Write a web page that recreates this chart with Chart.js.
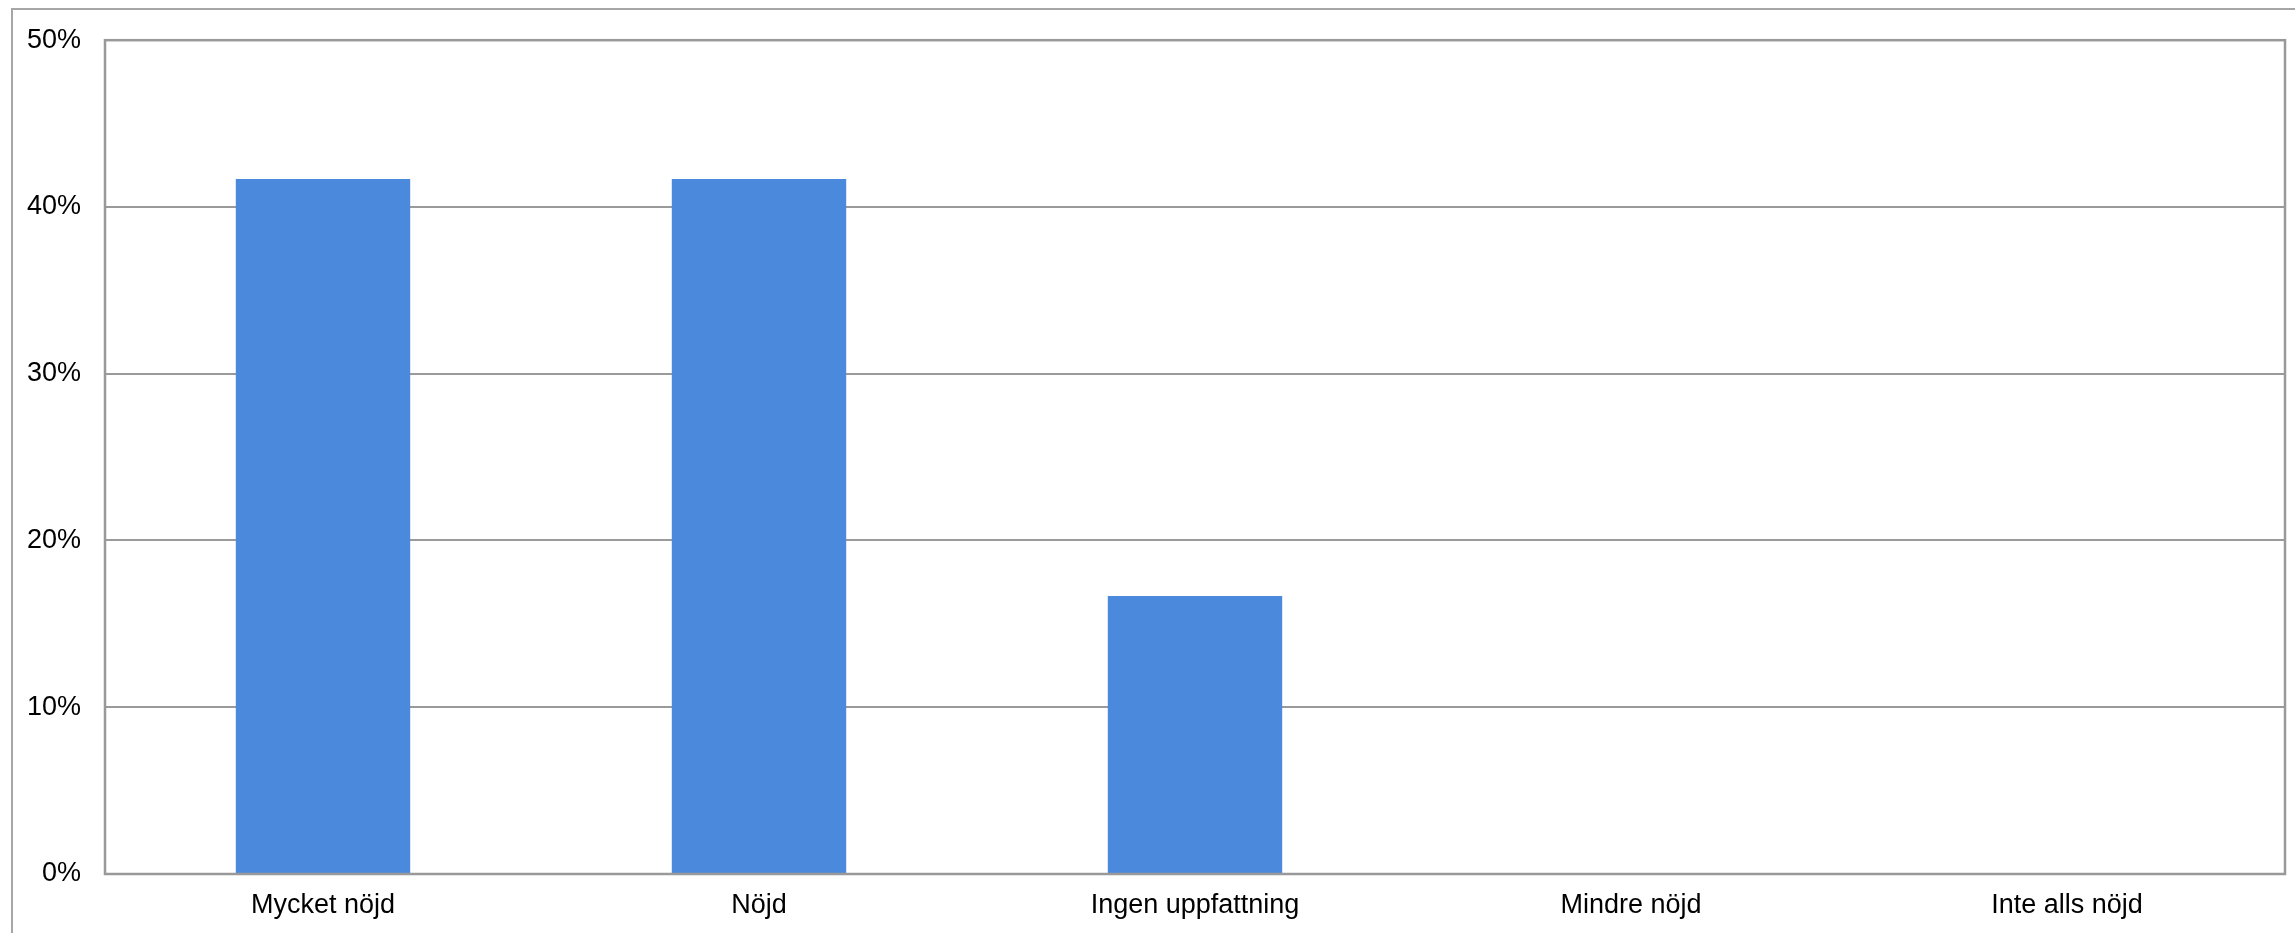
<!DOCTYPE html>
<html>
<head>
<meta charset="utf-8">
<script src="https://cdn.jsdelivr.net/npm/chart.js@4/dist/chart.umd.min.js"></script>
<style>
html,body{margin:0;padding:0;background:#fff;overflow:hidden;}
#wrap{position:absolute;left:0;top:0;width:2295px;height:933px;}
</style>
</head>
<body>
<div id="wrap"><canvas id="c" width="2295" height="933"></canvas></div>
<script>
const categories = ["Mycket nöjd", "Nöjd", "Ingen uppfattning", "Mindre nöjd", "Inte alls nöjd"];
const values = [41.67, 41.67, 16.67, 0, 0];
const yTicks = [0, 10, 20, 30, 40, 50];

const frame = {
  id: 'frame',
  beforeDraw(chart) {
    const ctx = chart.ctx;
    ctx.save();
    ctx.fillStyle = '#ffffff';
    ctx.fillRect(0, 0, chart.width, chart.height);
    ctx.strokeStyle = '#a6a6a6';
    ctx.lineWidth = 2;
    ctx.beginPath();
    ctx.moveTo(12, chart.height + 5);
    ctx.lineTo(12, 9);
    ctx.lineTo(chart.width + 5, 9);
    ctx.stroke();
    ctx.restore();
  },
  afterDraw(chart) {
    const a = chart.chartArea, ctx = chart.ctx;
    ctx.save();
    ctx.strokeStyle = '#999999';
    ctx.lineWidth = 2.5;
    ctx.strokeRect(a.left, a.top, a.right - a.left, a.bottom - a.top);
    ctx.restore();
  }
};

new Chart(document.getElementById('c'), {
  type: 'bar',
  data: {
    labels: categories,
    datasets: [{
      data: values,
      backgroundColor: '#4a89dc',
      borderWidth: 0,
      categoryPercentage: 0.4,
      barPercentage: 1.0
    }]
  },
  options: {
    responsive: false,
    animation: false,
    devicePixelRatio: 1,
    layout: { padding: { left: 0, right: 10, top: 38, bottom: 0 } },
    plugins: { legend: { display: false }, tooltip: { enabled: false } },
    scales: {
      x: {
        grid: { display: false, drawTicks: false },
        border: { display: false },
        ticks: { color: '#000', font: { family: 'Liberation Sans, Arial, sans-serif', size: 27 }, padding: 15, maxRotation: 0 },
        afterFit(s) { s.height = 59; }
      },
      y: {
        min: 0, max: 50,
        afterBuildTicks(s) { s.ticks = yTicks.map(v => ({ value: v })); },
        grid: { color: '#9a9a9a', lineWidth: 2, drawTicks: false },
        border: { display: false },
        ticks: { color: '#000', font: { family: 'Liberation Sans, Arial, sans-serif', size: 27 }, padding: 24, callback: v => v + '%' },
        afterFit(s) { s.width = 105; }
      }
    }
  },
  plugins: [frame]
});
</script>
</body>
</html>
